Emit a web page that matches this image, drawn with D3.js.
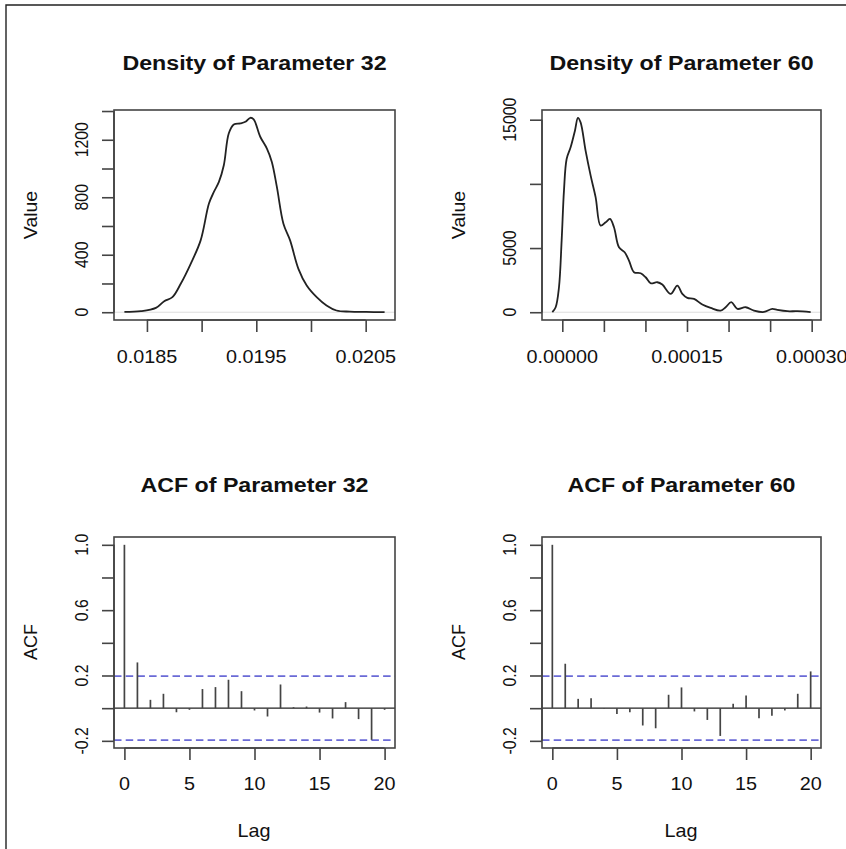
<!DOCTYPE html>
<html>
<head>
<meta charset="utf-8">
<script src="https://cdn.jsdelivr.net/npm/d3@7"></script>
<style>
  body { margin: 0; background: #fff; }
  text { font-family: "Liberation Sans", Arial, sans-serif; fill: #111; }
</style>
</head>
<body>
<div id="chart"></div>
<script>
// density of parameter 32
const dens32X = [0.018294, 0.018445, 0.018582, 0.018658, 0.018733, 0.018809, 0.0189, 0.018991,
  0.019067, 0.019112, 0.019158, 0.019203, 0.019248, 0.019294, 0.019355, 0.0194, 0.019445,
  0.019476, 0.019536, 0.019597, 0.019642, 0.019688, 0.019748, 0.019809, 0.019885, 0.019961,
  0.020052, 0.020142, 0.020233, 0.020355, 0.020506, 0.020673];
const dens32Y = [2, 7, 30, 77, 105, 198, 337, 500, 756, 837, 907, 1023, 1244, 1307, 1314, 1325,
  1353, 1342, 1221, 1139, 1046, 872, 616, 500, 302, 186, 105, 47, 12, 4, 2, 0];

// density of parameter 60
const dens60X = [-1.2e-5, -8.0e-6, -4.0e-6, -8e-7, 2.0e-6, 5.2e-6, 1.0e-5, 1.52e-5, 1.88e-5, 2.2e-5,
  2.8e-5, 3.41e-5, 4.01e-5, 4.612e-5, 5.214e-5, 5.735e-5, 6.217e-5, 6.818e-5, 7.5e-5, 8.021e-5,
  8.623e-5, 9.425e-5, 1.0027e-4, 1.0628e-4, 1.143e-4, 1.2032e-4, 1.3035e-4, 1.3837e-4, 1.4439e-4,
  1.504e-4, 1.5842e-4, 1.6845e-4, 1.7848e-4, 1.9051e-4, 1.9652e-4, 2.0334e-4, 2.1056e-4,
  2.2059e-4, 2.3062e-4, 2.4265e-4, 2.5267e-4, 2.5869e-4, 2.7072e-4, 2.8275e-4, 2.9879e-4];
const dens60Y = [0, 389, 1946, 5579, 9472, 11937, 12845, 14143, 15150, 14792,
  12586, 10640, 8953, 6747, 7007, 7266, 6617, 5060, 4671, 4022,
  3114, 3036, 2725, 2258, 2336, 2154, 1427, 2076, 1427,
  1116, 1038, 597, 337, 130, 389, 779, 260,
  389, 130, 20, 260, 182, 78, 78, 0];

// autocorrelations, lags 0..20
const lags = [0, 1, 2, 3, 4, 5, 6, 7, 8, 9, 10, 11, 12, 13, 14, 15, 16, 17, 18, 19, 20];
const acf32 = [1.0, 0.28, 0.051, 0.088, -0.025, -0.01, 0.117, 0.129, 0.174, 0.104, -0.014,
  -0.051, 0.145, 0.006, 0.01, -0.027, -0.063, 0.037, -0.067, -0.194, -0.01];
const acf60 = [1.0, 0.272, 0.057, 0.061, -0.004, -0.035, -0.025, -0.106, -0.123, 0.082, 0.127,
  -0.02, -0.072, -0.17, 0.027, 0.078, -0.061, -0.047, -0.014, 0.088, 0.225];
const acfLimit = 0.196;

// ticks and labels
const dens32XTicks = [0.0185, 0.0190, 0.0195, 0.0200, 0.0205];
const dens32XLabels = ['0.0185', '', '0.0195', '', '0.0205'];
const dens32YTicks = [0, 200, 400, 600, 800, 1000, 1200, 1400];
const dens32YLabels = ['0', '', '400', '', '800', '', '1200', ''];
const dens60XTicks = [0, 0.00005, 0.0001, 0.00015, 0.0002, 0.00025, 0.0003];
const dens60XLabels = ['0.00000', '', '', '0.00015', '', '', '0.00030'];
const dens60YTicks = [0, 5000, 10000, 15000];
const dens60YLabels = ['0', '5000', '', '15000'];
const acfXTicks = [0, 5, 10, 15, 20];
const acfXLabels = ['0', '5', '10', '15', '20'];
const acfYTicks = [-0.2, 0, 0.2, 0.4, 0.6, 0.8, 1.0];
const acfYLabels = ['-0.2', '', '0.2', '', '0.6', '', '1.0'];

const titles = ['Density of Parameter 32', 'Density of Parameter 60',
  'ACF of Parameter 32', 'ACF of Parameter 60'];

const width = 846, height = 849;

// R style range: data extent widened by 4% each side
function padded(values) {
  let [lo, hi] = d3.extent(values);
  let d = (hi - lo) * 0.04;
  return [lo - d, hi + d];
}

class PanelView {
  constructor(svg, box) {
    this.svg = svg;
    this.box = box; // {x0, x1, y0, y1}
    this.g = svg.append('g');
  }

  setScales(xDomain, yDomain) {
    this.x = d3.scaleLinear().domain(xDomain).range([this.box.x0, this.box.x1]);
    this.y = d3.scaleLinear().domain(yDomain).range([this.box.y1, this.box.y0]);
  }

  hText(x, y, str, size, weight, sx) {
    this.g.append('text')
      .attr('transform', `translate(${x},${y}) scale(${sx},1)`)
      .attr('text-anchor', 'middle')
      .style('font-size', size + 'px')
      .style('font-weight', weight)
      .text(str);
  }

  vText(x, y, str, size, sLen) {
    this.g.append('text')
      .attr('transform', `translate(${x},${y}) rotate(-90) scale(${sLen},1)`)
      .attr('text-anchor', 'middle')
      .style('font-size', size + 'px')
      .text(str);
  }

  renderFrame(title, titleY) {
    let b = this.box;
    this.g.append('rect')
      .attr('x', b.x0).attr('y', b.y0)
      .attr('width', b.x1 - b.x0).attr('height', b.y1 - b.y0)
      .attr('fill', 'none').attr('stroke', '#444').attr('stroke-width', 1.6);
    this.hText((b.x0 + b.x1) / 2, titleY, title, 20, 'bold', 1.16);
  }

  // R style axis: line only from first to last tick, ticks pointing out
  renderAxes(xTicks, xLabels, yTicks, yLabels, xLabelY, yLabelX) {
    let b = this.box;
    let xAxis = d3.axisBottom(this.x).tickValues(xTicks).tickSize(12).tickFormat('');
    let yAxis = d3.axisLeft(this.y).tickValues(yTicks).tickSize(12).tickFormat('');
    let ax = this.g.append('g').attr('transform', `translate(0,${b.y1})`).call(xAxis);
    let ay = this.g.append('g').attr('transform', `translate(${b.x0},0)`).call(yAxis);
    ax.select('.domain').remove();
    ay.select('.domain').remove();
    ax.append('line')
      .attr('x1', this.x(xTicks[0])).attr('x2', this.x(xTicks[xTicks.length - 1]));
    ay.append('line')
      .attr('y1', this.y(yTicks[0])).attr('y2', this.y(yTicks[yTicks.length - 1]));
    [ax, ay].forEach(a => a.selectAll('line').attr('stroke', '#444').attr('stroke-width', 1.6));

    xTicks.forEach((t, i) => {
      if (xLabels[i]) this.hText(this.x(t), xLabelY, xLabels[i], 18, 'normal', 1.1);
    });
    yTicks.forEach((t, i) => {
      if (yLabels[i]) this.vText(yLabelX, this.y(t), yLabels[i], 18, 0.88);
    });
  }

  renderDensity(xs, ys) {
    let b = this.box;
    this.g.append('line')
      .attr('x1', b.x0).attr('x2', b.x1)
      .attr('y1', this.y(0)).attr('y2', this.y(0))
      .attr('stroke', '#ddd').attr('stroke-width', 1);
    let line = d3.line()
      .x(i => this.x(xs[i]))
      .y(i => this.y(ys[i]))
      .curve(d3.curveCatmullRom);
    this.g.append('path')
      .attr('d', line(d3.range(xs.length)))
      .attr('fill', 'none').attr('stroke', '#222').attr('stroke-width', 1.8);
  }

  renderAcf(values) {
    let b = this.box;
    [acfLimit, -acfLimit].forEach(v => {
      this.g.append('line')
        .attr('x1', b.x0).attr('x2', b.x1)
        .attr('y1', this.y(v)).attr('y2', this.y(v))
        .attr('stroke', '#6a6ad6').attr('stroke-width', 1.8)
        .attr('stroke-dasharray', '7.5,4.2');
    });
    this.g.append('line')
      .attr('x1', b.x0).attr('x2', b.x1)
      .attr('y1', this.y(0)).attr('y2', this.y(0))
      .attr('stroke', '#222').attr('stroke-width', 1.4);
    this.g.selectAll('.lag').data(lags).enter().append('line')
      .attr('x1', d => this.x(d)).attr('x2', d => this.x(d))
      .attr('y1', this.y(0)).attr('y2', d => this.y(values[d]))
      .attr('stroke', '#444').attr('stroke-width', 1.7);
  }
}

let svg = d3.select('#chart').append('svg')
  .attr('width', width).attr('height', height);
svg.append('rect').attr('width', width).attr('height', height).attr('fill', '#fff');

// outer frame (only top and left edge are visible)
svg.append('path').attr('d', 'M6,849V5H846')
  .attr('fill', 'none').attr('stroke', '#222').attr('stroke-width', 1.4);

let p1 = new PanelView(svg, {x0: 114, x1: 395, y0: 110, y1: 320});
p1.setScales(padded(dens32X), padded([0].concat(dens32Y)));
p1.renderDensity(dens32X, dens32Y);
p1.renderFrame(titles[0], 70);
p1.renderAxes(dens32XTicks, dens32XLabels, dens32YTicks, dens32YLabels, 363, 88);
p1.vText(37, 215, 'Value', 18, 1.08);

let p2 = new PanelView(svg, {x0: 542, x1: 821, y0: 110, y1: 320});
p2.setScales(padded(dens60X), padded([0].concat(dens60Y)));
p2.renderDensity(dens60X, dens60Y);
p2.renderFrame(titles[1], 70);
p2.renderAxes(dens60XTicks, dens60XLabels, dens60YTicks, dens60YLabels, 363, 516);
p2.vText(465, 215, 'Value', 18, 1.08);

let p3 = new PanelView(svg, {x0: 114, x1: 395, y0: 537, y1: 748});
p3.setScales(padded(lags), padded([-acfLimit, acfLimit].concat(acf32)));
p3.renderAcf(acf32);
p3.renderFrame(titles[2], 492);
p3.renderAxes(acfXTicks, acfXLabels, acfYTicks, acfYLabels, 790, 88);
p3.vText(37, 642, 'ACF', 18, 1.0);
p3.hText(254, 837, 'Lag', 18, 'normal', 1.1);

let p4 = new PanelView(svg, {x0: 542, x1: 821, y0: 537, y1: 748});
p4.setScales(padded(lags), padded([-acfLimit, acfLimit].concat(acf60)));
p4.renderAcf(acf60);
p4.renderFrame(titles[3], 492);
p4.renderAxes(acfXTicks, acfXLabels, acfYTicks, acfYLabels, 790, 516);
p4.vText(465, 642, 'ACF', 18, 1.0);
p4.hText(681, 837, 'Lag', 18, 'normal', 1.1);
</script>
</body>
</html>
